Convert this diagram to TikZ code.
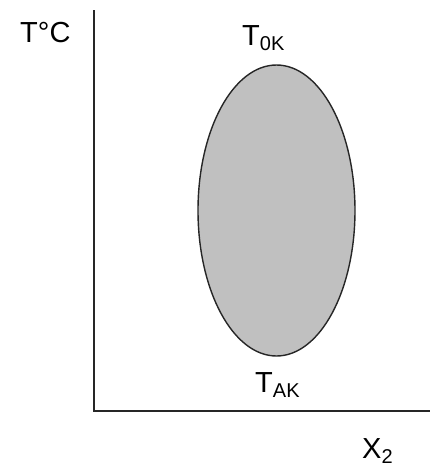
\documentclass[tikz,border=0pt]{standalone}
\usepackage{fontspec}
\usetikzlibrary{shapes.geometric}
\setmainfont{Liberation Sans}
\definecolor{blobgray}{RGB}{192,192,192}
\newcommand{\lbl}[2]{#1\raisebox{-5pt}{\fontsize{20}{22}\selectfont #2}}
\begin{document}
\begin{tikzpicture}[x=1pt,y=-1pt,
  axisline/.style={line width=2pt,draw=black!85},
  labeltext/.style={inner sep=0pt,font=\fontsize{29}{32}\selectfont}]
\useasboundingbox (0,0) rectangle (430,467);
\coordinate (top) at (94,10);
\coordinate (origin) at (94,411);
\coordinate (right) at (430,411);
\draw[axisline] (top) -- (origin) -- (right);
\node[draw=black!85,line width=1.4pt,fill=blobgray,ellipse,minimum width=157pt,minimum height=291pt,inner sep=0pt] (blob) at (276.5,210.5) {};
\node[labeltext,anchor=base west] (tc) at (20,42) {T°C};
\node[labeltext,anchor=base west] (tok) at (242,45) {\lbl{T}{0K}};
\node[labeltext,anchor=base west] (tak) at (255,392) {\lbl{T}{AK}};
\node[labeltext,anchor=base west] (x2) at (362,458) {\lbl{X}{2}};
\end{tikzpicture}
\end{document}
